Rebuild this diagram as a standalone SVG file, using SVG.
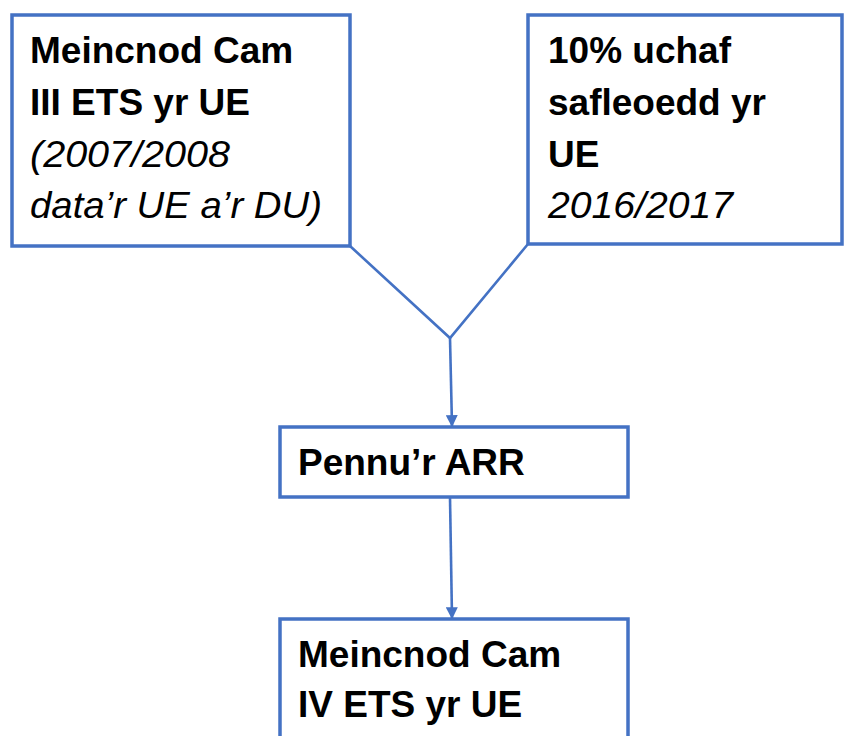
<svg xmlns="http://www.w3.org/2000/svg" width="844" height="736" viewBox="0 0 844 736">
<style>
.box{fill:#fff;stroke:#4472C4;stroke-width:3.5}
.t{font-family:"Liberation Sans",Arial,sans-serif;font-size:37px;fill:#000}
.b{font-weight:bold}
.i{font-style:italic}
.c{fill:none;stroke:#4472C4;stroke-width:2.6}
</style>
<defs>
<marker id="ah" viewBox="0 0 10 10" refX="9" refY="5" markerWidth="4.6" markerHeight="4.6" orient="auto" markerUnits="strokeWidth">
<path d="M0,0 L10,5 L0,10 z" fill="#4472C4"/>
</marker>
</defs>
<rect width="844" height="736" fill="#fff"/>
<g id="connectors">
<path class="c" d="M350,246 L450,338 L528,244"/>
<path class="c" d="M450,338 L452,426" marker-end="url(#ah)"/>
<path class="c" d="M450,497 L452,618" marker-end="url(#ah)"/>
</g>
<g id="node1">
<rect class="box" x="12" y="15" width="338" height="231"/>
<text class="t b" x="30" y="63">Meincnod Cam</text>
<text class="t b" x="30" y="115">III ETS yr UE</text>
<text class="t i" x="30" y="167" textLength="200" lengthAdjust="spacingAndGlyphs">(2007/2008</text>
<text class="t i" x="30" y="218" textLength="292" lengthAdjust="spacingAndGlyphs">data’r UE a’r DU)</text>
</g>
<g id="node2">
<rect class="box" x="528" y="15" width="314" height="229"/>
<text class="t b" x="548" y="63">10% uchaf</text>
<text class="t b" x="548" y="115">safleoedd yr</text>
<text class="t b" x="548" y="167">UE</text>
<text class="t i" x="548" y="218" textLength="185" lengthAdjust="spacingAndGlyphs">2016/2017</text>
</g>
<g id="node3">
<rect class="box" x="280" y="427" width="348" height="70"/>
<text class="t b" x="298" y="475">Pennu’r ARR</text>
</g>
<g id="node4">
<rect class="box" x="280" y="619" width="348" height="140"/>
<text class="t b" x="298" y="667">Meincnod Cam</text>
<text class="t b" x="298" y="717">IV ETS yr UE</text>
</g>
</svg>
